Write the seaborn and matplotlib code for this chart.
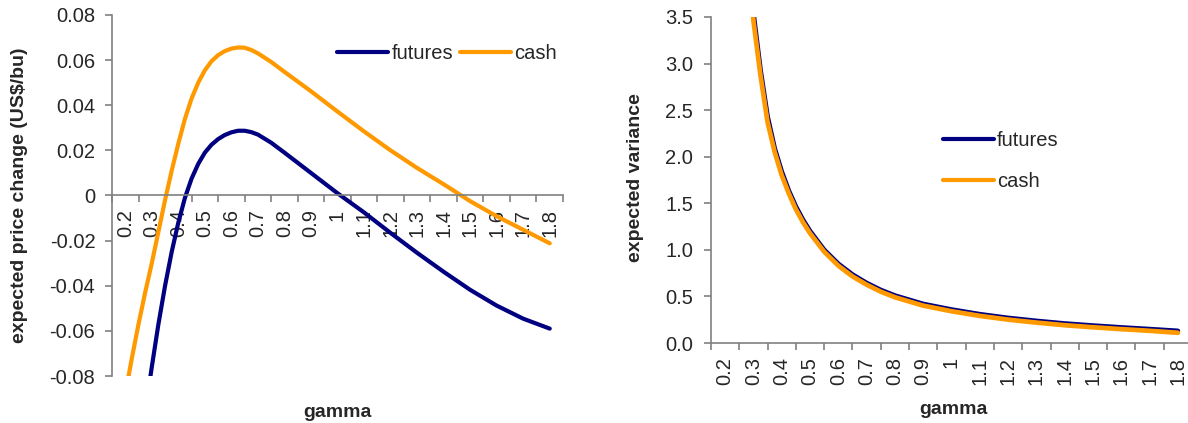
import numpy as np
import pandas as pd
import matplotlib
matplotlib.use('Agg')
import matplotlib.pyplot as plt
from matplotlib.lines import Line2D
from matplotlib.ticker import FixedLocator, FixedFormatter
import seaborn as sns

# values (finer steps where the curves bend)
gamma_price = [0.2, 0.225, 0.25, 0.275, 0.3, 0.325, 0.35, 0.375, 0.4, 0.425, 0.45,
               0.475, 0.5, 0.525, 0.55, 0.575, 0.6, 0.625, 0.65, 0.675, 0.7, 0.75,
               0.8, 0.9, 1.0, 1.1, 1.2, 1.3, 1.4, 1.5, 1.6, 1.7, 1.8]
price_futures = [-0.165, -0.140, -0.117, -0.096, -0.076, -0.057, -0.040, -0.025,
                 -0.012, -0.001, 0.0075, 0.0140, 0.0190, 0.0225, 0.0250, 0.0268,
                 0.0280, 0.0287, 0.0287, 0.0281, 0.0270, 0.0234, 0.0190, 0.0100,
                 0.0010, -0.0075, -0.0166, -0.0254, -0.0338, -0.0418, -0.0488,
                 -0.0546, -0.0590]
price_cash = [-0.088, -0.072, -0.057, -0.043, -0.030, -0.016, -0.002, 0.011, 0.023,
              0.034, 0.043, 0.050, 0.0555, 0.0595, 0.0622, 0.0640, 0.0651, 0.0656,
              0.0655, 0.0645, 0.0630, 0.0592, 0.0548, 0.0462, 0.0372, 0.0284,
              0.0200, 0.0122, 0.0050, -0.0025, -0.0092, -0.0152, -0.0212]

gamma_var = [0.275, 0.3, 0.325, 0.35, 0.375, 0.4, 0.425, 0.45, 0.475, 0.5, 0.55,
             0.6, 0.65, 0.7, 0.75, 0.8, 0.9, 1.0, 1.1, 1.2, 1.3, 1.4, 1.5, 1.6,
             1.7, 1.8]
var_futures = [4.45, 3.54, 2.93, 2.43, 2.09, 1.84, 1.635, 1.465, 1.323, 1.202, 1.0,
               0.85, 0.735, 0.644, 0.569, 0.509, 0.419, 0.359, 0.309, 0.269, 0.237,
               0.209, 0.187, 0.167, 0.149, 0.13]
var_cash = [4.35, 3.46, 2.87, 2.37, 2.05, 1.80, 1.605, 1.435, 1.297, 1.178, 0.98,
            0.83, 0.715, 0.626, 0.551, 0.491, 0.401, 0.341, 0.291, 0.251, 0.219,
            0.191, 0.169, 0.149, 0.131, 0.11]

category_labels = ['0.2', '0.3', '0.4', '0.5', '0.6', '0.7', '0.8', '0.9', '1',
                   '1.1', '1.2', '1.3', '1.4', '1.5', '1.6', '1.7', '1.8']
category_pos = [0.2 + 0.1 * i for i in range(len(category_labels))]
price_ticks = [-0.08, -0.06, -0.04, -0.02, 0, 0.02, 0.04, 0.06, 0.08]
var_ticks = [0.0, 0.5, 1.0, 1.5, 2.0, 2.5, 3.0, 3.5]

series = ['futures', 'cash']
colors = {'futures': '#000080', 'cash': '#FF9900'}

sns.set_theme(style='white')
plt.rcParams['font.family'] = ['Liberation Sans', 'DejaVu Sans']
plt.rcParams['axes.unicode_minus'] = False

df_price = pd.DataFrame({
    'gamma': gamma_price * 2,
    'value': price_futures + price_cash,
    'series': ['futures'] * len(gamma_price) + ['cash'] * len(gamma_price),
})
df_var = pd.DataFrame({
    'gamma': gamma_var * 2,
    'value': var_futures + var_cash,
    'series': ['futures'] * len(gamma_var) + ['cash'] * len(gamma_var),
})

fig = plt.figure(figsize=(11.88, 4.23), dpi=100)
ax1 = fig.add_axes([112 / 1188, 47 / 423, 451 / 1188, 361 / 423])
ax2 = fig.add_axes([711 / 1188, 80 / 423, 481 / 1188, 326 / 423])

sns.lineplot(data=df_price, x='gamma', y='value', hue='series', hue_order=series,
             palette=colors, linewidth=3, legend=False, ax=ax1,
             solid_capstyle='round')
sns.lineplot(data=df_var, x='gamma', y='value', hue='series', hue_order=series,
             palette=colors, linewidth=3.4, legend=False, ax=ax2,
             solid_capstyle='round')


def style_axis(ax, yticks, ylabels, ylabel, ypad):
    ax.set_xlim(0.15, 1.85)
    ax.set_ylim(yticks[0], yticks[-1])
    for s in ['top', 'right']:
        ax.spines[s].set_visible(False)
    for s in ['left', 'bottom']:
        ax.spines[s].set_color('#808080')
        ax.spines[s].set_linewidth(1.2)
    # category boundaries get the tick marks, labels sit in between
    ax.xaxis.set_major_locator(FixedLocator([0.15 + 0.1 * i for i in range(18)]))
    ax.xaxis.set_major_formatter(FixedFormatter([''] * 18))
    ax.xaxis.set_minor_locator(FixedLocator(category_pos))
    ax.xaxis.set_minor_formatter(FixedFormatter(category_labels))
    ax.tick_params(axis='x', which='major', direction='out', length=5, width=1.2,
                   color='#808080', bottom=True)
    ax.tick_params(axis='x', which='minor', length=0, pad=10, labelsize=14.5,
                   labelrotation=90, bottom=True)
    for lab in ax.get_xticklabels(minor=True):
        lab.set_va('top')
    ax.set_yticks(yticks)
    ax.set_yticklabels(ylabels)
    ax.tick_params(axis='y', direction='out', length=5, width=1.2, color='#808080',
                   labelsize=14.5, pad=ypad, left=True)
    ax.set_xlabel('gamma', fontsize=14, fontweight='bold')
    ax.set_ylabel(ylabel, fontsize=14, fontweight='bold')


style_axis(ax1, price_ticks, [f'{round(v, 2):g}' for v in price_ticks],
           'expected price change (US$/bu)', 7)
style_axis(ax2, var_ticks, [f'{v:.1f}' for v in var_ticks], 'expected variance', 8)

# left chart: horizontal axis crosses at zero
ax1.spines['bottom'].set_position(('data', 0))
ax1.xaxis.set_label_coords(0.5, -0.10)
ax1.xaxis.label.set_va('center')
ax1.yaxis.set_label_coords(-0.205, 0.5)
ax1.yaxis.label.set_va('center')

ax2.xaxis.set_label_coords(0.503, -0.205)
ax2.xaxis.label.set_va('center')
ax2.yaxis.set_label_coords(-0.158, 0.506)
ax2.yaxis.label.set_va('center')

handles = [Line2D([], [], color=colors[s], linewidth=3, solid_capstyle='round')
           for s in series]
ax1.legend(handles, series, loc='center left', bbox_to_anchor=(0.499, 0.892),
           ncol=2, frameon=False, fontsize=14.5, handlelength=2.55,
           handletextpad=0.15, columnspacing=0.35, borderpad=0, borderaxespad=0)
ax2.legend(handles, series, loc='center left', bbox_to_anchor=(0.482, 0.557),
           frameon=False, fontsize=14.5, handlelength=2.55, handletextpad=0.15,
           labelspacing=1.1, borderpad=0, borderaxespad=0)

fig.savefig('out.png', dpi=100)
